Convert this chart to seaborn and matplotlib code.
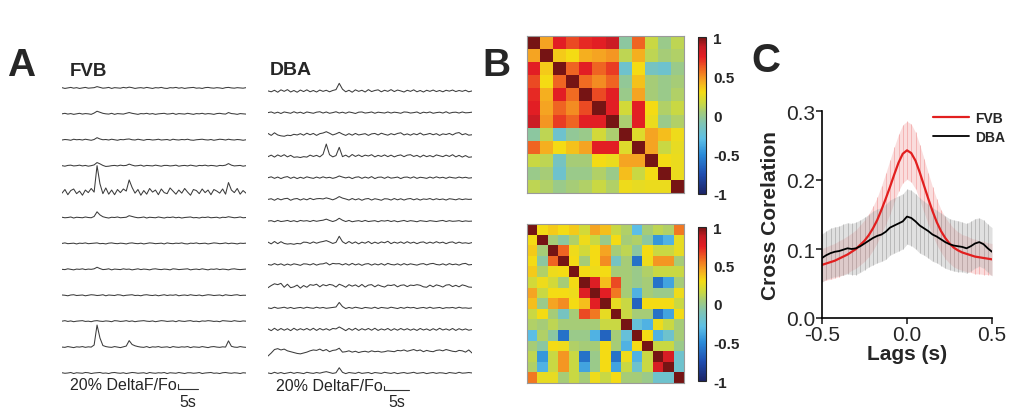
import numpy as np
import matplotlib
matplotlib.use('Agg')
import matplotlib.pyplot as plt
from matplotlib.colors import LinearSegmentedColormap
import seaborn as sns

sns.set_style('white')
plt.rcParams['font.family'] = ['Liberation Sans', 'DejaVu Sans']

# ---------------- Painel A: traços de cálcio (% DeltaF/Fo) ----------------
fvb_traces = [
    [1,-2,0,2,-1,1,-2,0,2,-1,0,1,5,2,-1,0,2,-2,1,0,-1,2,0,3,1,-2,0,1,-1,2,0,-2,
     1,0,2,-1,-2,1,0,2,-1,1,-2,0,1,2,-1,0,-2,1,2,0,-1,1,0,-2,1,2,0,-1,1,0,-1,1],
    [0,2,-1,1,-2,0,2,-1,1,0,-2,3,10,6,2,0,-1,2,-2,1,0,-1,2,5,2,0,-2,1,0,2,-1,1,
     -2,0,1,2,-1,0,2,-2,1,0,-1,2,0,-2,1,0,2,-1,1,0,-2,1,2,0,-1,5,1,0,-2,1,0,-1],
    [-1,1,0,-2,2,0,1,-1,2,0,-2,1,8,3,0,1,-1,2,0,-2,1,0,2,3,0,-1,2,0,-2,1,1,-1,
     0,2,-1,0,1,-2,2,0,-1,1,0,2,-1,-2,0,1,2,0,-1,1,-2,0,2,1,-1,2,0,-1,1,0,-2,0],
    [0,-2,1,2,-1,0,2,-1,1,-2,0,3,12,7,1,-3,-2,0,1,-1,2,0,1,6,2,-1,0,2,-2,1,0,-1,
     2,0,-2,1,1,-1,0,2,-2,0,1,-1,2,0,-2,1,0,2,-1,1,0,-2,1,0,2,8,2,-1,0,1,-2,0],
    [-6,8,-12,4,10,-8,2,-14,6,-4,12,-2,100,30,-8,14,-10,6,-12,8,-4,10,2,45,16,-6,8,-14,4,-10,12,-2,
     6,-12,10,-4,-8,14,2,-10,6,-6,12,-2,-14,8,4,-8,10,-4,6,-12,8,2,-6,10,-10,35,6,-4,12,-10,4,-6],
    [1,-1,0,2,-2,1,0,-1,2,0,-1,4,22,10,3,0,-2,1,0,2,-1,0,1,7,4,1,-1,0,2,-2,1,0,
     -1,2,0,-2,1,0,2,-1,1,-2,0,1,2,-1,0,-2,1,0,2,-1,0,1,-2,1,0,3,1,-1,0,2,-1,0],
    [0,2,-1,0,1,-2,1,0,2,-1,0,1,2,-1,0,-2,1,2,0,-1,1,0,-2,1,2,0,-1,1,-2,0,2,1,
     -1,0,1,-2,2,0,-1,1,0,2,-1,-2,1,0,2,-1,0,1,-2,0,2,1,-1,0,2,-1,1,0,-2,1,0,1],
    [0,-1,2,0,-2,1,0,2,-1,1,0,2,8,3,-1,0,2,-2,1,0,-1,2,0,1,-2,0,2,-1,1,0,-2,1,
     2,0,-1,1,0,-2,2,1,-1,0,1,2,-2,0,1,-1,2,0,-2,1,0,2,-1,1,0,-2,1,2,0,-1,0,1],
    [1,0,-2,1,2,-1,0,1,-2,0,2,1,-1,0,2,-2,1,0,-1,2,1,-2,0,1,2,-1,0,-2,1,2,0,-1,
     1,-2,0,2,-1,1,0,2,-2,0,1,-1,2,0,-1,1,-2,0,2,1,-1,0,1,-2,2,0,-1,1,2,-1,0,0],
    [0,2,-1,1,-2,0,1,2,-1,0,-2,1,2,0,-1,1,0,-2,2,1,-1,0,2,-1,1,-2,0,1,2,0,-1,1,
     -2,0,2,1,-1,0,1,-2,2,0,-1,1,2,-1,0,-2,1,0,2,1,-1,0,-2,2,1,0,-1,2,0,-1,1,0],
    [0,-1,2,0,-2,1,0,2,-1,1,0,8,85,35,6,2,0,-1,2,0,-2,1,4,25,10,5,2,0,-1,2,-2,1,
     0,2,-1,0,1,-2,2,0,-1,1,0,2,-2,1,0,-1,2,0,-2,1,2,0,-1,1,0,24,3,0,-1,2,0,-1],
    [1,-1,0,2,-2,1,0,-1,2,1,-2,0,1,2,-1,0,-2,1,2,0,-1,1,-2,0,2,1,-1,0,1,-2,2,0,
     -1,1,0,2,-2,1,0,-1,2,0,-2,1,1,-1,0,2,-2,0,1,2,-1,0,-2,1,2,0,-1,1,0,-2,1,0],
]

dba_traces = [
    [0,-4,3,-6,5,-2,6,-5,2,-6,4,-3,5,-4,2,-5,4,-2,3,-4,2,6,35,8,-4,3,-6,5,-2,3,-5,6,
     -3,2,5,-4,3,-2,6,-3,4,0,-5,3,-2,5,-4,2,-5,3,-2,4,-3,2,-4,3,-1,4,-3,2,-2,3,-4,0],
    [0,3,-3,2,-4,3,0,-3,4,-2,2,-4,3,0,-3,2,4,-2,3,-3,0,4,-2,2,-3,3,0,-4,2,3,-2,0,
     3,-3,2,0,-2,3,-2,2,0,-3,3,2,-2,0,3,-4,2,-1,3,-3,0,2,-2,4,-3,1,2,-2,3,-1,0,2],
    [4,-5,7,-3,-7,-9,-4,-6,0,-3,3,-4,5,-2,4,-5,3,6,12,5,-3,2,9,1,-5,3,-4,4,-3,0,3,-5,
     2,4,-3,5,0,-4,3,-2,4,7,-3,2,-4,3,-2,6,-3,0,4,-2,3,-5,2,-1,4,-3,5,8,-2,3,-4,-2],
    [-3,4,-5,5,-2,6,-4,3,-6,-4,-7,-3,-5,4,-2,3,-4,8,55,6,-4,2,40,-3,4,-5,7,-2,5,-3,4,0,
     6,-4,3,-2,5,-3,4,-4,2,5,-3,4,6,-2,3,-5,4,-3,2,-4,5,1,-3,4,-2,6,-4,3,-5,2,-6,-4],
    [0,4,-3,3,-4,2,5,-3,3,-4,2,-3,4,0,-3,3,-2,4,-1,2,-3,1,8,3,-1,3,-4,2,4,-3,3,-2,
     5,-4,2,3,-3,4,-2,0,3,-4,2,3,-2,4,-3,2,0,-3,3,-2,4,-1,2,-3,3,0,-2,3,-1,2,-2,0],
    [0,3,-4,4,-2,3,5,-4,2,4,-3,3,-2,5,-1,3,4,2,7,3,-2,4,13,6,2,-3,4,-2,3,-4,2,4,
     -3,3,0,-4,3,2,-3,4,-2,3,-3,2,4,-2,3,-3,2,0,4,-2,3,-1,2,-3,3,1,-2,3,-1,2,0,1],
    [0,2,-3,3,-2,0,3,-2,2,-3,3,0,2,-2,3,-1,2,4,9,3,-2,3,13,4,-2,3,-3,0,2,-2,3,-2,
     0,2,-3,2,0,3,-2,2,-3,0,3,-2,2,0,-3,2,0,-2,2,0,-2,1,3,-2,2,-1,0,2,-2,1,-1,0],
    [3,-5,6,-4,5,-3,-6,-4,-7,-3,-5,3,2,-3,4,-2,3,6,10,4,-3,2,30,5,-4,6,-3,4,-5,3,-2,6,
     -4,3,-3,4,0,7,-4,3,-2,4,-3,5,-2,3,-4,2,4,-3,3,-2,5,-1,3,-4,2,4,-3,3,-2,0,-3,1],
    [0,-3,4,-2,3,-4,2,-3,3,0,-4,3,2,-2,4,-3,2,3,8,-2,5,3,4,-2,4,-3,5,-2,3,-4,2,4,
     -3,3,-2,4,-3,5,0,-2,3,-3,4,-2,3,0,-3,2,4,-2,3,5,0,-2,3,-3,4,-1,2,-3,3,5,-2,0],
    [-7,3,11,7,13,-5,9,-7,-3,5,-9,3,-5,7,4,9,-3,7,2,8,5,-4,9,3,-5,7,0,6,-3,8,-4,5,
     7,-3,6,0,-4,5,3,7,-3,4,6,-2,5,3,7,4,-3,-5,5,-3,6,2,-4,5,7,-2,4,-3,6,2,-4,-5],
    [0,-3,3,-2,0,3,-2,2,-3,0,2,-2,3,0,-2,3,-1,2,-2,0,2,4,25,6,-3,2,-2,3,0,-3,2,0,
     -2,3,-3,2,0,-2,3,0,-3,2,-2,3,0,2,-3,0,2,-2,3,-2,0,2,-3,1,0,2,-2,3,-1,0,-2,0],
    [3,-5,6,-4,5,-3,4,-5,6,-3,4,-2,5,-3,6,-4,5,-2,4,-3,5,3,12,4,-5,5,-3,6,-4,4,-2,5,
     -3,6,-4,3,-2,5,-4,4,-3,5,-2,4,-3,3,-4,5,-2,3,-4,4,-3,6,-2,3,-3,5,-4,4,-2,3,-3,0],
    [-22,-8,8,12,6,10,2,-2,-6,-10,-12,-8,-4,2,6,4,10,2,8,-2,4,6,14,-4,-2,2,-4,0,-6,-2,0,-4,
     2,-2,0,-4,-2,2,0,-2,4,2,6,0,4,8,2,6,-2,4,0,-2,4,6,2,8,4,0,-2,4,2,-4,6,-8],
    [0,-3,3,-2,2,-3,0,3,-2,2,0,-3,3,0,-2,2,-1,3,6,2,-2,1,24,3,-3,2,0,-2,3,-2,0,2,
     -3,2,0,-2,3,0,-2,2,-3,0,2,-2,0,3,-2,0,2,-3,0,2,-2,1,0,-3,2,0,-2,3,-1,0,2,0],
]

fvb_dur = 46   # s
dba_dur = 41   # s

# ---------------- Painel B: matrizes de correlação ----------------
corr_fvb = [
    [1.00, 0.45, 0.75, 0.65, 0.72, 0.75, 0.85, -0.05, 0.60, 0.15, 0.00, 0.12],
    [0.45, 1.00, 0.35, 0.30, 0.42, 0.45, 0.48, 0.12, 0.42, 0.12, 0.05, 0.08],
    [0.75, 0.35, 1.00, 0.60, 0.75, 0.60, 0.68, -0.20, 0.30, -0.15, -0.20, 0.00],
    [0.65, 0.30, 0.60, 1.00, 0.58, 0.50, 0.60, -0.03, 0.37, 0.05, 0.00, 0.05],
    [0.72, 0.42, 0.75, 0.58, 1.00, 0.65, 0.75, 0.00, 0.45, 0.05, 0.00, 0.08],
    [0.75, 0.45, 0.60, 0.50, 0.65, 1.00, 0.75, 0.18, 0.75, 0.30, 0.08, 0.15],
    [0.85, 0.48, 0.68, 0.60, 0.75, 0.75, 1.00, 0.07, 0.75, 0.27, 0.00, 0.08],
    [-0.05, 0.12, -0.20, -0.03, 0.00, 0.18, 0.07, 1.00, 0.22, 0.45, 0.38, 0.28],
    [0.60, 0.42, 0.30, 0.37, 0.45, 0.75, 0.75, 0.22, 1.00, 0.45, 0.15, 0.25],
    [0.15, 0.12, -0.15, 0.05, 0.05, 0.30, 0.27, 0.45, 0.45, 1.00, 0.30, 0.27],
    [0.00, 0.05, -0.20, 0.00, 0.00, 0.08, 0.00, 0.38, 0.15, 0.30, 1.00, 0.27],
    [0.12, 0.08, 0.00, 0.05, 0.08, 0.15, 0.08, 0.28, 0.25, 0.27, 0.27, 1.00],
]

corr_dba = [
    [1.00, 0.30, 0.35, 0.30, 0.35, 0.18, 0.45, 0.38, 0.15, 0.08, -0.30, 0.05, 0.12, 0.08, 0.55],
    [0.30, 1.00, 0.05, -0.05, 0.08, 0.28, 0.15, 0.00, 0.30, 0.05, 0.08, -0.05, -0.45, -0.35, 0.25],
    [0.35, 0.05, 1.00, 0.60, 0.28, 0.18, 0.30, 0.45, 0.05, 0.12, -0.05, 0.30, 0.15, 0.15, 0.25],
    [0.30, -0.05, 0.60, 1.00, 0.30, 0.05, 0.30, 0.50, -0.15, 0.05, -0.60, 0.28, 0.48, 0.48, 0.05],
    [0.35, 0.08, 0.28, 0.30, 1.00, 0.30, 0.28, 0.30, 0.05, 0.05, 0.00, 0.08, 0.15, 0.15, 0.15],
    [0.18, 0.28, 0.18, 0.05, 0.30, 1.00, 0.78, 0.38, 0.65, 0.05, 0.00, 0.05, -0.60, -0.40, 0.05],
    [0.45, 0.15, 0.30, 0.30, 0.28, 0.78, 1.00, 0.75, 0.55, 0.05, -0.35, 0.05, 0.00, 0.00, 0.28],
    [0.38, 0.00, 0.45, 0.50, 0.30, 0.38, 0.75, 1.00, 0.25, 0.15, -0.65, 0.30, 0.30, 0.30, 0.15],
    [0.15, 0.30, 0.05, -0.15, 0.05, 0.65, 0.55, 0.25, 1.00, 0.15, 0.05, 0.05, -0.60, -0.40, 0.30],
    [0.08, 0.05, 0.12, 0.05, 0.05, 0.05, 0.05, 0.15, 0.15, 1.00, -0.25, -0.35, 0.28, 0.15, 0.05],
    [-0.30, 0.08, -0.05, -0.60, 0.00, 0.00, -0.35, -0.65, 0.05, -0.25, 1.00, 0.30, -0.35, -0.20, 0.05],
    [0.05, -0.05, 0.30, 0.28, 0.08, 0.05, 0.05, 0.30, 0.05, -0.35, 0.30, 1.00, 0.15, 0.15, 0.00],
    [0.12, -0.45, 0.15, 0.48, 0.15, -0.60, 0.00, 0.30, -0.60, 0.28, -0.35, 0.15, 1.00, 0.80, -0.20],
    [0.08, -0.35, 0.15, 0.48, 0.15, -0.40, 0.00, 0.30, -0.40, 0.15, -0.20, 0.15, 0.80, 1.00, -0.20],
    [0.55, 0.25, 0.25, 0.05, 0.15, 0.05, 0.28, 0.15, 0.30, 0.05, 0.05, 0.00, -0.20, -0.20, 1.00],
]
cbar_ticks = [-1, -0.5, 0, 0.5, 1]
cbar_labels = ['-1', '-0.5', '0', '0.5', '1']

# ---------------- Painel C: correlação cruzada ----------------
lags = [-0.500, -0.475, -0.450, -0.425, -0.400, -0.375, -0.350, -0.325, -0.300, -0.275,
        -0.250, -0.225, -0.200, -0.175, -0.150, -0.125, -0.100, -0.075, -0.050, -0.025,
        0.000, 0.025, 0.050, 0.075, 0.100, 0.125, 0.150, 0.175, 0.200, 0.225,
        0.250, 0.275, 0.300, 0.325, 0.350, 0.375, 0.400, 0.425, 0.450, 0.475, 0.500]
fvb_xc = [0.077, 0.079, 0.081, 0.083, 0.086, 0.089, 0.092, 0.096, 0.100, 0.106,
          0.112, 0.120, 0.130, 0.142, 0.157, 0.173, 0.190, 0.208, 0.225, 0.238,
          0.243, 0.239, 0.228, 0.211, 0.192, 0.173, 0.155, 0.139, 0.126, 0.116,
          0.108, 0.102, 0.098, 0.095, 0.093, 0.091, 0.089, 0.088, 0.087, 0.086, 0.085]
fvb_err = [0.024, 0.024, 0.025, 0.025, 0.026, 0.026, 0.027, 0.027, 0.028, 0.029,
           0.030, 0.031, 0.032, 0.033, 0.035, 0.037, 0.039, 0.040, 0.041, 0.042,
           0.042, 0.042, 0.041, 0.040, 0.039, 0.037, 0.035, 0.033, 0.031, 0.030,
           0.029, 0.028, 0.027, 0.026, 0.026, 0.025, 0.025, 0.024, 0.024, 0.023, 0.023]
dba_xc = [0.087, 0.091, 0.094, 0.096, 0.097, 0.099, 0.101, 0.100, 0.101, 0.104,
          0.108, 0.112, 0.116, 0.119, 0.121, 0.125, 0.131, 0.134, 0.137, 0.140,
          0.147, 0.145, 0.140, 0.134, 0.130, 0.126, 0.121, 0.118, 0.114, 0.110,
          0.107, 0.105, 0.104, 0.103, 0.101, 0.104, 0.108, 0.110, 0.107, 0.101, 0.096]
dba_err = [0.035, 0.035, 0.036, 0.036, 0.036, 0.037, 0.037, 0.037, 0.038, 0.038,
           0.038, 0.038, 0.039, 0.039, 0.039, 0.040, 0.040, 0.040, 0.040, 0.040,
           0.040, 0.040, 0.040, 0.040, 0.039, 0.039, 0.039, 0.038, 0.038, 0.038,
           0.037, 0.037, 0.037, 0.036, 0.036, 0.036, 0.036, 0.035, 0.035, 0.035, 0.035]

# mapa de cores parecido com o da figura (jet um pouco esmaecido)
cmap_ref = LinearSegmentedColormap.from_list('ref_jet', [
    (0.000, '#1c2466'), (0.125, '#1f4db0'), (0.250, '#2a8ad8'), (0.350, '#5cbfe6'),
    (0.450, '#80c4b4'), (0.525, '#a6cc78'), (0.575, '#c8d844'), (0.650, '#f4dc14'),
    (0.725, '#f5a422'), (0.800, '#ef6422'), (0.875, '#e41e24'), (0.940, '#c41c24'),
    (1.000, '#761414')])

W, H = 1024, 410
fig = plt.figure(figsize=(W / 100, H / 100), dpi=100)


def px_axes(l, t, r, b):
    return fig.add_axes([l / W, 1 - b / H, (r - l) / W, (b - t) / H])


def draw_traces(ax, traces, dur, ylim):
    for i, tr in enumerate(traces):
        t = np.linspace(0, dur, len(tr))
        ax.plot(t, np.array(tr) - i * 100, color='#3c3c3c', lw=0.75)
    ax.set_xlim(0, dur)
    ax.set_ylim(*ylim)
    ax.axis('off')


def scale_bar(ax, x0, y0, family):
    ax.plot([x0, x0, x0 + 5], [y0 + 20, y0, y0], color='#333333', lw=0.8, clip_on=False)
    ax.text(x0 - 0.3, y0, '20% DeltaF/Fo', ha='right', va='baseline', fontsize=11.5,
            family=family)
    ax.text(x0 + 2.5, y0 - 20, '5s', ha='center', va='top', fontsize=11.5, family=family)


# Painel A
ax_f = px_axes(62, 70, 246, 395)
draw_traces(ax_f, fvb_traces, fvb_dur, (-1181, 73))
scale_bar(ax_f, 29.0, -1162, ['Liberation Sans', 'DejaVu Sans'])

ax_d = px_axes(268, 75, 472, 395)
draw_traces(ax_d, dba_traces, dba_dur, (-1397, 78))
scale_bar(ax_d, 23.3, -1378, ['Liberation Sans Narrow', 'Liberation Sans', 'DejaVu Sans'])

fig.text(21 / W, 1 - 66 / H, 'A', fontsize=28, fontweight='bold', ha='center', va='center')
fig.text(70 / W, 1 - 72 / H, 'FVB', fontsize=13.5, fontweight='bold', ha='left', va='center')
fig.text(270 / W, 1 - 71 / H, 'DBA', fontsize=14, fontweight='bold', ha='left', va='center')

# Painel B
for mat, box, cbox in [(corr_fvb, (527, 37, 684, 194), (698, 38, 706, 195)),
                       (corr_dba, (527, 225, 684, 384), (698, 228, 706, 382))]:
    ax = px_axes(*box)
    cax = px_axes(*cbox)
    sns.heatmap(np.array(mat), ax=ax, cbar_ax=cax, cmap=cmap_ref, vmin=-1, vmax=1,
                xticklabels=False, yticklabels=False)
    for s in ax.spines.values():
        s.set_visible(True)
        s.set_color('#9a9a9a')
        s.set_linewidth(0.8)
    cb = ax.collections[0].colorbar
    cb.set_ticks(cbar_ticks)
    cb.set_ticklabels(cbar_labels)
    cb.outline.set_linewidth(0.8)
    cax.tick_params(length=0, pad=5)
    for lab in cax.get_yticklabels():
        lab.set_fontsize(11)
        lab.set_fontweight('bold')

fig.text(496 / W, 1 - 66 / H, 'B', fontsize=28, fontweight='bold', ha='center', va='center')

# Painel C
ax_c = px_axes(822, 112, 992, 319)
lag_arr = np.array(lags)
for mean, err, band in [(fvb_xc, fvb_err, '#f2a0a0'), (dba_xc, dba_err, '#a8a8a8')]:
    m = np.array(mean)
    e = np.array(err)
    ax_c.fill_between(lag_arr, m - e, m + e, color=band, alpha=0.35, lw=0)
    ax_c.vlines(lag_arr, m - e, m + e, color=band, lw=0.6, alpha=0.8)
for mean, col, name, lw in [(fvb_xc, '#e21f1f', 'FVB', 1.6), (dba_xc, 'black', 'DBA', 1.3)]:
    sns.lineplot(x=lags, y=mean, ax=ax_c, color=col, lw=lw, label=name)

ax_c.set_xlim(-0.5, 0.5)
ax_c.set_ylim(0, 0.3)
ax_c.set_xticks([-0.5, 0, 0.5])
ax_c.set_xticklabels(['-0.5', '0.0', '0.5'])
ax_c.set_yticks([0, 0.1, 0.2, 0.3])
ax_c.set_yticklabels(['0.0', '0.1', '0.2', '0.3'])
ax_c.tick_params(labelsize=15, length=4, width=1.2, direction='out', pad=1, left=True, bottom=True)
sns.despine(ax=ax_c)
for s in ['left', 'bottom']:
    ax_c.spines[s].set_linewidth(1.2)
    ax_c.spines[s].set_color('black')
ax_c.set_xlabel('Lags (s)', fontsize=15, fontweight='bold', labelpad=0)
ax_c.set_ylabel('Cross Corelation', fontsize=15, fontweight='bold', labelpad=4)
leg = ax_c.legend(frameon=False, loc='upper right', bbox_to_anchor=(1.15, 1.06),
                  handlelength=2.6, handletextpad=0.4, labelspacing=0.35,
                  prop={'weight': 'bold', 'size': 10})

fig.text(766 / W, 1 - 61 / H, 'C', fontsize=29, fontweight='bold', ha='center', va='center')

fig.savefig('out.png', dpi=100, facecolor='white')
